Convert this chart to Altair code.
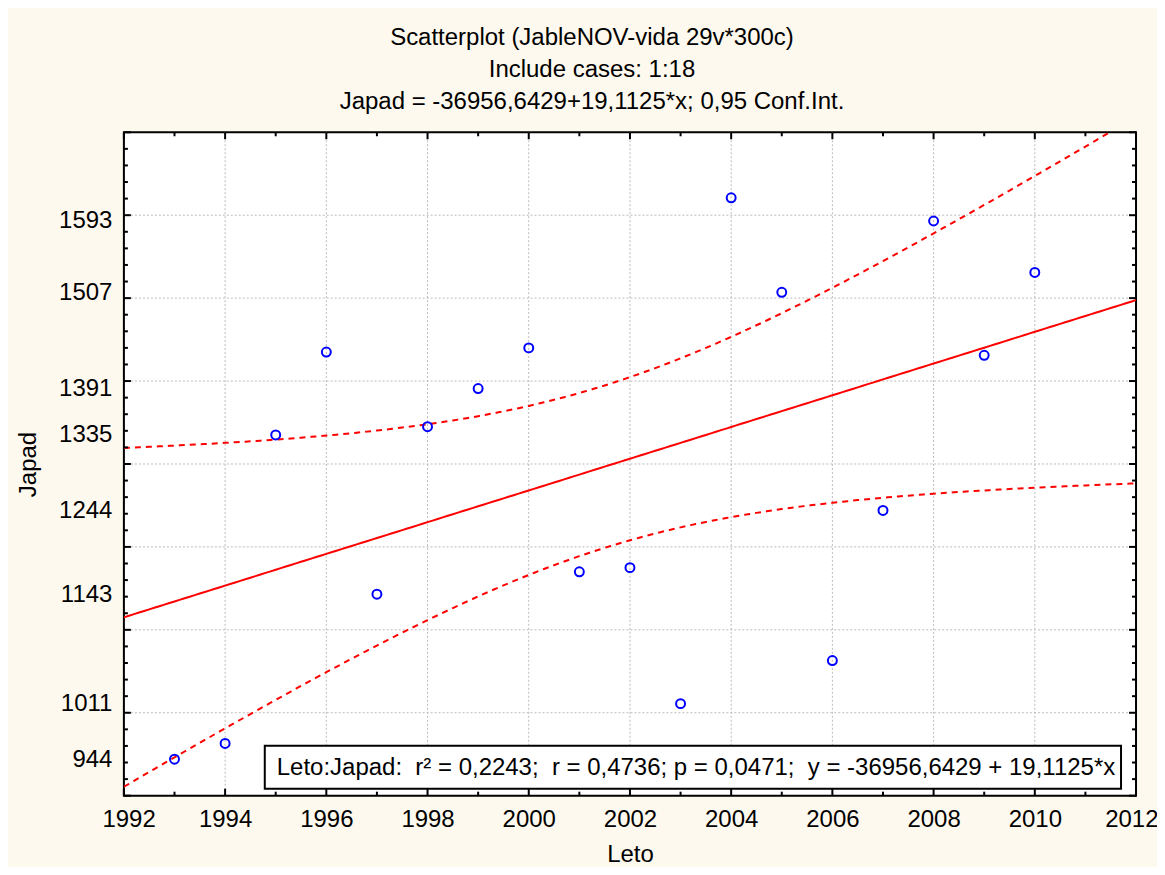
import altair as alt
import numpy as np
import pandas as pd

# ---- data ----
years = [1993, 1994, 1995, 1996, 1997, 1998, 1999, 2000, 2001, 2002,
         2003, 2004, 2005, 2006, 2007, 2008, 2009, 2010]
japad = [944, 963, 1335, 1435, 1143, 1345, 1391, 1440, 1170, 1175,
         1011, 1621, 1507, 1063, 1244, 1593, 1431, 1531]

y_label_values = [944, 1011, 1143, 1244, 1335, 1391, 1507, 1593]
x_label_values = list(range(1992, 2013, 2))
x_minor = list(range(1993, 2012, 2))
y_major = list(range(900, 1701, 100))
y_minor = [v for v in range(900, 1701, 20) if v % 100 != 0]
x_grid = list(range(1994, 2011, 2))
y_grid = list(range(1000, 1601, 100))

title_lines = ["Scatterplot (JableNOV-vida 29v*300c)",
               "Include cases: 1:18",
               "Japad = -36956,6429+19,1125*x; 0,95 Conf.Int."]
box_text = ("Leto:Japad:\u00a0\u00a0r\u00b2 = 0,2243;\u00a0\u00a0r = 0,4736; p = 0,0471;"
            "\u00a0\u00a0y = -36956,6429 + 19,1125*x")

T_CRIT = 2.1199  # t(0.975, df=16)

# ---- regression + 95% confidence band computed from data ----
x = np.array(years, dtype=float)
y = np.array(japad, dtype=float)
n = len(x)
b1, b0 = np.polyfit(x, y, 1)
resid = y - (b0 + b1 * x)
s = np.sqrt(np.sum(resid ** 2) / (n - 2))
xbar = x.mean()
sxx = np.sum((x - xbar) ** 2)
xs = np.linspace(1992, 2012, 201)
yhat = b0 + b1 * xs
se = s * np.sqrt(1.0 / n + (xs - xbar) ** 2 / sxx)
fit_df = pd.DataFrame({"Leto": xs, "Japad": yhat})
up_df = pd.DataFrame({"Leto": xs, "Japad": yhat + T_CRIT * se})
lo_df = pd.DataFrame({"Leto": xs, "Japad": yhat - T_CRIT * se})
pts = pd.DataFrame({"Leto": years, "Japad": japad})

W, H = 1013, 664
FONT = "Liberation Sans"
FS = 24
xs_scale = alt.Scale(domain=[1992, 2012], nice=False, zero=False)
ys_scale = alt.Scale(domain=[900, 1700], nice=False, zero=False)

AX = alt.Axis(values=x_label_values, format="d", grid=False, ticks=False,
              domain=False, labelFont=FONT, labelFontSize=FS, labelFlush=True,
              labelFlushOffset=22,
              labelColor="black", labelPadding=12, titleFont=FONT,
              titleFontSize=FS, titleFontWeight="normal", titleColor="black",
              titlePadding=11)
AY = alt.Axis(values=y_label_values, format="d", grid=False, ticks=False,
              domain=False, labelFont=FONT, labelFontSize=FS, labelFlush=False,
              labelColor="black", labelPadding=12, titleFont=FONT,
              titleFontSize=FS, titleFontWeight="normal", titleColor="black",
              titlePadding=18)

def X():
    return alt.X("Leto:Q", scale=xs_scale, axis=AX, title="Leto")

def Y():
    return alt.Y("Japad:Q", scale=ys_scale, axis=AY, title="Japad")

grid_style = dict(color="#BBBBBB", strokeWidth=1, strokeDash=[2, 2])

vgrid = alt.Chart(pd.DataFrame({"Leto": x_grid})).mark_rule(**grid_style).encode(x=X())
hgrid = alt.Chart(pd.DataFrame({"Japad": y_grid})).mark_rule(**grid_style).encode(y=Y())

band_style = dict(color="#FF0000", strokeWidth=2, strokeDash=[6, 5], clip=True)
upper = alt.Chart(up_df).mark_line(**band_style).encode(x=X(), y=Y())
lower = alt.Chart(lo_df).mark_line(**band_style).encode(x=X(), y=Y())
fit = alt.Chart(fit_df).mark_line(color="#FF0000", strokeWidth=2, clip=True).encode(x=X(), y=Y())

points = alt.Chart(pts).mark_point(shape="circle", filled=False, color="#0000FF",
                                   strokeWidth=2, size=80, opacity=1).encode(x=X(), y=Y())

# ---- inward tick marks on all four sides ----
def xticks(vals, length):
    b = alt.Chart(pd.DataFrame({"Leto": vals})).mark_rule(color="black", strokeWidth=2)
    return [b.encode(x=X(), y=alt.value(H), y2=alt.value(H - length)),
            b.encode(x=X(), y=alt.value(0), y2=alt.value(length))]

def yticks(vals, length):
    b = alt.Chart(pd.DataFrame({"Japad": vals})).mark_rule(color="black", strokeWidth=2)
    return [b.encode(y=Y(), x=alt.value(0), x2=alt.value(length)),
            b.encode(y=Y(), x=alt.value(W), x2=alt.value(W - length))]

ticks = (xticks(x_label_values, 7) + xticks(x_minor, 4)
         + yticks(y_major, 7) + yticks(y_minor, 4))

# ---- statistics box ----
box = alt.Chart(pd.DataFrame({"k": [0]})).mark_rect(
    fill="white", stroke="black", strokeWidth=2).encode(
    x=alt.value(141), x2=alt.value(998), y=alt.value(614), y2=alt.value(657))
box_txt = alt.Chart(pd.DataFrame({"k": [0]})).mark_text(
    text=box_text, font=FONT, fontSize=FS, align="left", baseline="middle",
    color="black").encode(x=alt.value(153), y=alt.value(636))

chart = alt.layer(vgrid, hgrid, upper, lower, fit, points, box, box_txt, *ticks).properties(
    width=W, height=H,
    autosize=alt.AutoSizeParams(type="none"),
    padding={"left": 116, "top": 124, "right": 21, "bottom": 71},
    background="#FEF9EE",
    title=alt.TitleParams(text=title_lines, anchor="middle", dx=-38, fontSize=FS,
                          font=FONT, fontWeight="normal", color="black",
                          lineHeight=32, offset=17),
).configure_view(fill="white", stroke="black", strokeWidth=2)

chart.save("out.html", embed_options={"renderer": "svg", "actions": False})
